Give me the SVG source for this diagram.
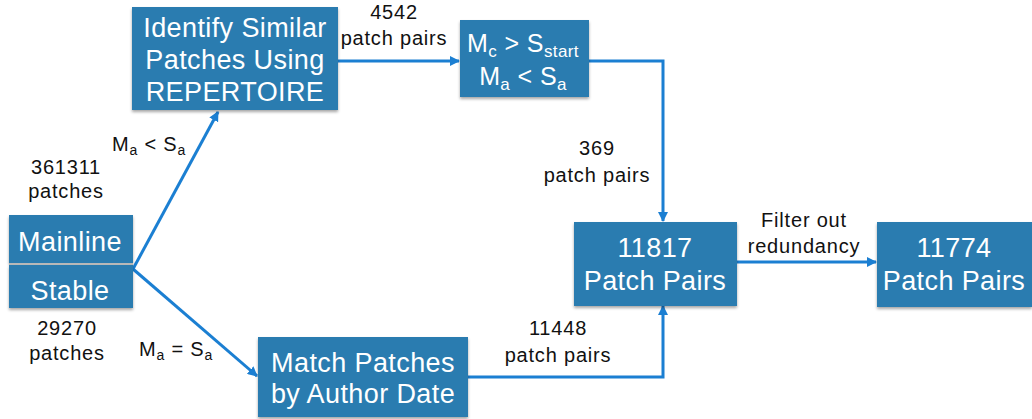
<svg xmlns="http://www.w3.org/2000/svg" width="1032" height="419" viewBox="0 0 1032 419">
  <defs>
    <filter id="shadow" x="-10%" y="-10%" width="120%" height="130%">
      <feDropShadow dx="0" dy="2" stdDeviation="1.5" flood-color="#000" flood-opacity="0.35"/>
    </filter>
    <marker id="arrow" viewBox="0 0 10 10" refX="9" refY="5" markerWidth="10" markerHeight="10" markerUnits="userSpaceOnUse" orient="auto">
      <path d="M0,0 L10,5 L0,10 z" fill="#1b7fd2"/>
    </marker>
    <style>
      .box { fill: #2b7bb0; filter: url(#shadow); }
      .big { font-family: "Liberation Sans", Arial, sans-serif; font-size: 27px; letter-spacing: 0.4px; fill: #ffffff; text-anchor: middle; }
      .mid { font-family: "Liberation Sans", Arial, sans-serif; font-size: 25px; letter-spacing: 0.4px; fill: #ffffff; text-anchor: middle; }
      .lbl { font-family: "Liberation Sans", Arial, sans-serif; font-size: 20px; letter-spacing: 0.8px; fill: #111111; text-anchor: middle; }
      .lbl-l { font-family: "Liberation Sans", Arial, sans-serif; font-size: 20px; letter-spacing: 0.8px; fill: #111111; }
      .sub-big { font-size: 17px; }
      .sub { font-size: 14px; }
      .wire { fill: none; stroke: #1b7fd2; stroke-width: 3; marker-end: url(#arrow); }
    </style>
  </defs>

  <rect width="1032" height="419" fill="#ffffff"/>

  <!-- connectors -->
  <g id="connectors">
    <path class="wire" d="M133,269 L218,112"/>
    <path class="wire" d="M133,269 L257,376"/>
    <path class="wire" d="M338,61 L459,61"/>
    <path class="wire" d="M589,61 L663,61 L663,221"/>
    <path class="wire" d="M468,377 L663,377 L663,306"/>
    <path class="wire" d="M734,262 L876,262"/>
  </g>

  <!-- source: mainline / stable -->
  <g id="source">
    <rect class="box" x="9" y="215" width="124" height="48"/>
    <rect class="box" x="9" y="265" width="124" height="43"/>
    <line x1="9" y1="264" x2="133" y2="264" stroke="#b8b8b8" stroke-width="2"/>
    <text class="big" x="70" y="251">Mainline</text>
    <text class="big" x="70" y="300">Stable</text>
  </g>

  <g id="identify">
    <rect class="box" x="132" y="7" width="206" height="103"/>
    <text class="big" x="235" y="37">Identify Similar</text>
    <text class="big" x="235" y="69">Patches Using</text>
    <text class="big" x="235" y="101">REPERTOIRE</text>
  </g>

  <g id="threshold">
    <rect class="box" x="460" y="20" width="129" height="77"/>
    <text class="mid" x="523" y="52">M<tspan class="sub-big" dy="5">c</tspan><tspan dy="-5"> &gt; S</tspan><tspan class="sub-big" dy="5">start</tspan></text>
    <text class="mid" x="523" y="85">M<tspan class="sub-big" dy="5">a</tspan><tspan dy="-5"> &lt; S</tspan><tspan class="sub-big" dy="5">a</tspan></text>
  </g>

  <g id="match">
    <rect class="box" x="258" y="337" width="210" height="80"/>
    <text class="big" x="363" y="372">Match Patches</text>
    <text class="big" x="363" y="403">by Author Date</text>
  </g>

  <g id="merged">
    <rect class="box" x="574" y="222" width="163" height="84"/>
    <text class="big" x="655" y="257">11817</text>
    <text class="big" x="655" y="290">Patch Pairs</text>
  </g>

  <g id="final">
    <rect class="box" x="877" y="222" width="155" height="85"/>
    <text class="big" x="954" y="257">11774</text>
    <text class="big" x="954" y="290">Patch Pairs</text>
  </g>

  <!-- edge labels -->
  <g id="labels">
    <text class="lbl" x="394" y="19">4542</text>
    <text class="lbl" x="394" y="45">patch pairs</text>
    <text class="lbl" x="597" y="155">369</text>
    <text class="lbl" x="597" y="182">patch pairs</text>
    <text class="lbl" x="558" y="335">11448</text>
    <text class="lbl" x="558" y="362">patch pairs</text>
    <text class="lbl" x="804" y="227">Filter out</text>
    <text class="lbl" x="804" y="253">redundancy</text>
    <text class="lbl" x="66" y="174">361311</text>
    <text class="lbl" x="66" y="198">patches</text>
    <text class="lbl" x="67" y="335">29270</text>
    <text class="lbl" x="67" y="360">patches</text>
    <text class="lbl-l" x="112" y="151">M<tspan class="sub" dy="4">a</tspan><tspan dy="-4"> &lt; S</tspan><tspan class="sub" dy="4">a</tspan></text>
    <text class="lbl-l" x="139" y="356">M<tspan class="sub" dy="4">a</tspan><tspan dy="-4"> = S</tspan><tspan class="sub" dy="4">a</tspan></text>
  </g>
</svg>
